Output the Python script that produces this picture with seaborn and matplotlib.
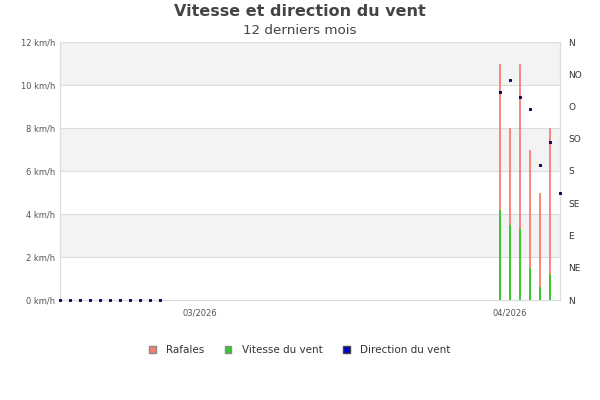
import matplotlib
matplotlib.use("Agg")
import matplotlib.pyplot as plt
import matplotlib.dates as mdates
from matplotlib.patches import Patch
import seaborn as sns
import pandas as pd

# daily values: mid-Feb -> early Apr 2026
days = (list(pd.date_range("2026-02-15", "2026-02-25", freq="D"))
        + list(pd.date_range("2026-03-31", "2026-04-06", freq="D")))
gusts = [0] * 11 + [11.0, 8.0, 11.0, 7.0, 5.0, 8.0, 0]
wind = [0] * 11 + [4.2, 3.5, 3.3, 1.5, 0.6, 1.2, 0]
direction = [0] * 11 + [290, 307, 283, 266, 188, 220, 149]

speed_ticks = [0, 2, 4, 6, 8, 10, 12]
dir_ticks = [0, 45, 90, 135, 180, 225, 270, 315, 360]
dir_labels = ["N", "NE", "E", "SE", "S", "SO", "O", "NO", "N"]

df = pd.DataFrame({"date": days, "gust": gusts, "wind": wind, "dir": direction})

GUST = "#fa7f72"
WIND = "#2ecc2e"
DIRC = "#0000cc"

sns.set_style("white")
plt.rcParams["font.family"] = ["DejaVu Sans"]

fig = plt.figure(figsize=(6, 4), dpi=100)
ax = fig.add_axes([0.1, 0.25, 0.8333, 0.645])

# alternating bands + grid
for lo, hi in [(2, 4), (6, 8), (10, 12)]:
    ax.axhspan(lo, hi, color="#f3f3f3", zorder=0, lw=0)
for y in speed_ticks[1:]:
    ax.axhline(y, color="#dddddd", lw=0.8, zorder=0.5)

ax.bar(df["date"], df["gust"], width=0.1, color=GUST, edgecolor=GUST,
       linewidth=0.6, zorder=2)
ax.bar(df["date"], df["wind"], width=0.1, color=WIND, edgecolor=WIND,
       linewidth=0.6, zorder=3)

ax.set_ylim(0, 12)
ax.set_yticks(speed_ticks)
ax.set_yticklabels([f"{v} km/h" for v in speed_ticks])
ax.set_xlim(pd.Timestamp("2026-02-15"), pd.Timestamp("2026-04-06"))
ax.xaxis.set_major_locator(mdates.MonthLocator())
ax.xaxis.set_major_formatter(mdates.DateFormatter("%m/%Y"))
ax.tick_params(axis="both", length=0, labelsize=6, colors="#555555")
ax.tick_params(axis="x", pad=6)
ax.set_xlabel("")
ax.set_ylabel("")

ax2 = ax.twinx()
sns.scatterplot(data=df, x="date", y="dir", ax=ax2, marker="s", s=4,
                color=DIRC, edgecolor="black", linewidth=0.6, zorder=4,
                clip_on=False, legend=False)
ax2.set_ylim(0, 360)
ax2.set_yticks(dir_ticks)
ax2.set_yticklabels(dir_labels)
ax2.tick_params(axis="y", length=0, labelsize=6.5, colors="#333333", pad=6)
ax2.set_ylabel("")

for a in (ax, ax2):
    for side in ("left", "bottom", "right"):
        a.spines[side].set_color("#dddddd")
        a.spines[side].set_linewidth(0.8)
    a.spines["top"].set_visible(False)

fig.text(0.5, 0.97, "Vitesse et direction du vent", ha="center", va="center",
         fontsize=11.5, fontweight="bold", color="#444444")
fig.text(0.5, 0.925, "12 derniers mois", ha="center", va="center",
         fontsize=9.7, color="#444444")

handles = [
    Patch(facecolor=GUST, edgecolor="#888888", label="Rafales"),
    Patch(facecolor=WIND, edgecolor="#888888", label="Vitesse du vent"),
    Patch(facecolor=DIRC, edgecolor="#444444", label="Direction du vent"),
]
fig.legend(handles=handles, loc="center", bbox_to_anchor=(0.5, 0.125), ncol=3,
           frameon=False, fontsize=7.5, handlelength=0.6, handleheight=0.6,
           columnspacing=2.0, handletextpad=1.0, labelcolor="#333333")

fig.savefig("out.png", dpi=100)
plt.close(fig)
